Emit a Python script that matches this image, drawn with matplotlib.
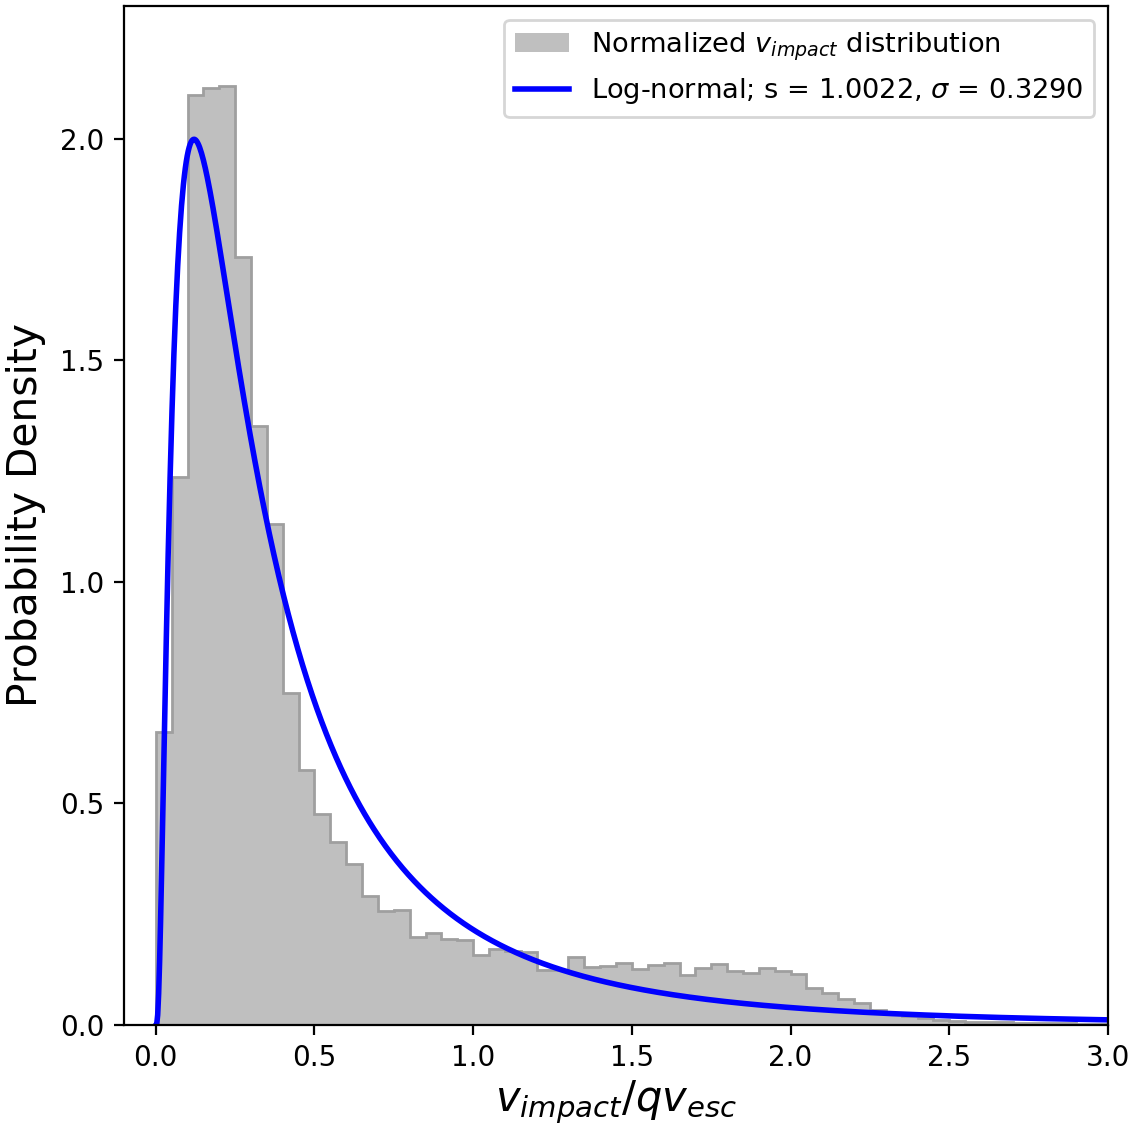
import numpy as np
import matplotlib
matplotlib.use("Agg")
import matplotlib.pyplot as plt
from matplotlib.patches import Patch

# ============================================================
# DATA
# ============================================================

# Histogram of normalized impact velocity, bin width 0.05 starting at 0
bin_width = 0.05
hist_density = [
    0.662, 1.238, 2.100, 2.115, 2.120, 1.733, 1.352, 1.131, 0.750, 0.576,
    0.477, 0.413, 0.364, 0.292, 0.258, 0.260, 0.198, 0.207, 0.194, 0.191,
    0.157, 0.172, 0.166, 0.164, 0.124, 0.124, 0.153, 0.132, 0.134, 0.139,
    0.126, 0.136, 0.141, 0.113, 0.128, 0.137, 0.123, 0.118, 0.129, 0.123,
    0.115, 0.084, 0.073, 0.059, 0.049, 0.033, 0.025, 0.020, 0.016, 0.011,
    0.010, 0.007, 0.007, 0.006, 0.005, 0.005, 0.004, 0.004, 0.003, 0.003,
]

# Log-normal fit parameters (shape s, scale sigma) as given in the legend
fit_s = 1.0022
fit_sigma = 0.3290
fit_x_range = (0.0, 3.0)

# ============================================================
# FIGURE
# ============================================================

fig = plt.figure(figsize=(1139 / 200, 1128 / 200), dpi=200)
ax = fig.add_axes([0.1089, 0.0913, 0.8639, 0.9034])

edges = np.arange(len(hist_density) + 1) * bin_width
ax.hist(
    edges[:-1],
    bins=edges,
    weights=hist_density,
    histtype="stepfilled",
    facecolor="#bfbfbf",
    edgecolor="#9f9f9f",
    linewidth=1.0,
)

# fitted log-normal pdf
x = np.linspace(fit_x_range[0] + 1e-6, fit_x_range[1], 1000)
pdf = np.exp(-np.log(x / fit_sigma) ** 2 / (2 * fit_s ** 2)) / (
    x * fit_s * np.sqrt(2 * np.pi)
)
line, = ax.plot(x, pdf, color="blue", linewidth=2)

ax.set_xlim(-0.1, 3.0)
ax.set_ylim(0, 2.3)
ax.set_xticks([0.0, 0.5, 1.0, 1.5, 2.0, 2.5, 3.0])
ax.set_yticks([0.0, 0.5, 1.0, 1.5, 2.0])
ax.tick_params(labelsize=10)

ax.set_xlabel(r"$v_{impact}/qv_{esc}$", fontsize=15, labelpad=2)
ax.set_ylabel("Probability Density", fontsize=14.7, labelpad=5)

hist_handle = Patch(facecolor="#bfbfbf", edgecolor="none")
ax.legend(
    [hist_handle, line],
    [r"Normalized $v_{impact}$ distribution",
     rf"Log-normal; s = {fit_s:.4f}, $\sigma$ = {fit_sigma:.4f}"],
    loc="upper right",
    fontsize=9.8,
)

fig.savefig("out.png", dpi=200)
